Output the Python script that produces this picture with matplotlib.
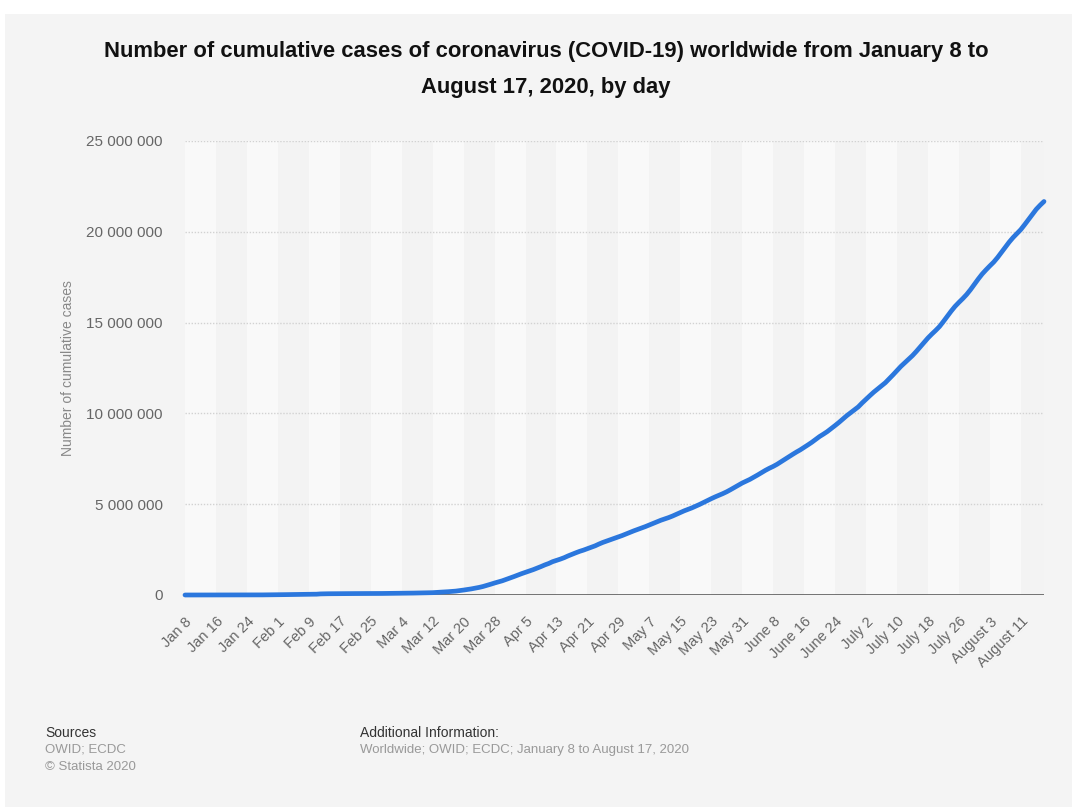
import matplotlib
matplotlib.use("Agg")
import matplotlib.pyplot as plt
import matplotlib.ticker as ticker
from matplotlib.patches import Rectangle
import numpy as np

# ── Data (cumulative cases, thousands, one value per day) ────────────────────

jan = [0.06, 0.06, 0.06, 0.06, 0.06, 0.06, 0.06, 0.06, 0.06, 0.06, 0.07, 0.08,
       0.28, 0.44, 0.58, 0.85, 1.3, 2.0, 2.9, 4.5, 6.1, 7.8, 9.8, 11.9]  # Jan 8-31
feb = [14.6, 17.4, 20.6, 24.5, 28.3, 31.5, 34.4, 37.1, 40.2, 42.8, 44.8, 60.3,
       67.1, 69.2, 71.2, 73.3, 75.2, 75.9, 76.2, 76.9, 78.6, 78.6, 79.4, 80.1,
       80.9, 81.8, 83.1, 84.6, 86.6]
mar = [88.6, 90.3, 92.8, 95.1, 97.9, 101.8, 105.8, 109.8, 113.6, 118.6, 125.9,
       128.3, 145.2, 156.1, 167.5, 181.5, 197.1, 214.9, 242.7, 272.2, 304.5,
       336.9, 378.3, 418.0, 467.7, 529.6, 593.3, 660.7, 720.1, 782.4, 857.5]
apr = [932.6, 1013.3, 1095.9, 1176.1, 1249.7, 1321.5, 1396.5, 1480.2, 1565.3,
       1657.5, 1735.6, 1835.1, 1906.1, 1976.2, 2056.1, 2152.6, 2240.2, 2324.0,
       2404.8, 2472.3, 2549.1, 2623.0, 2708.0, 2807.0, 2896.6, 2971.5, 3041.8,
       3116.4, 3193.9, 3276.0]
may = [3363.2, 3451.8, 3533.7, 3610.1, 3687.1, 3768.6, 3856.5, 3945.4, 4038.1,
       4117.6, 4190.0, 4263.8, 4348.1, 4444.5, 4540.8, 4633.8, 4716.4, 4797.0,
       4889.7, 4988.3, 5094.3, 5198.5, 5302.8, 5402.0, 5493.6, 5583.3, 5684.5,
       5800.3, 5923.7, 6047.0, 6165.7]
jun = [6266.0, 6367.8, 6485.3, 6609.6, 6738.1, 6864.3, 6977.8, 7078.6, 7196.1,
       7333.3, 7468.0, 7603.2, 7738.6, 7870.0, 7991.2, 8128.2, 8267.1, 8410.0,
       8568.6, 8727.2, 8859.7, 9000.5, 9164.7, 9330.5, 9502.1, 9683.7, 9870.1,
       10031.6, 10194.9, 10359.3]
jul = [10576.6, 10780.4, 10977.5, 11170.3, 11345.0, 11512.1, 11690.3, 11909.4,
       12127.9, 12357.9, 12585.7, 12782.3, 12980.9, 13181.1, 13411.5, 13655.6,
       13901.7, 14151.2, 14366.1, 14567.1, 14784.2, 15058.8, 15345.1, 15628.4,
       15889.9, 16111.0, 16320.0, 16546.2, 16811.6, 17106.0, 17396.9]
aug = [17669.3, 17902.1, 18121.3, 18330.6, 18584.0, 18867.3, 19152.2, 19432.4,
       19682.6, 19904.7, 20121.8, 20393.4, 20676.5, 20962.9, 21240.1, 21465.1,
       21669.5]  # Aug 1-17

tick_labels = ["Jan 8", "Jan 16", "Jan 24", "Feb 1", "Feb 9", "Feb 17", "Feb 25",
               "Mar 4", "Mar 12", "Mar 20", "Mar 28", "Apr 5", "Apr 13", "Apr 21",
               "Apr 29", "May 7", "May 15", "May 23", "May 31", "June 8",
               "June 16", "June 24", "July 2", "July 10", "July 18", "July 26",
               "August 3", "August 11"]

cases = np.array(jan + feb + mar + apr + may + jun + jul + aug) * 1000
days = np.arange(len(cases))

# ── Figure ───────────────────────────────────────────────────────────────────

plt.rcParams["font.family"] = ["Liberation Sans", "DejaVu Sans"]

fig = plt.figure(figsize=(10.72, 8.07), dpi=100, facecolor="white")
fig.patches.append(Rectangle((5 / 1072, 0), 1, 1 - 14 / 807,
                             transform=fig.transFigure, facecolor="#f4f4f4",
                             edgecolor="none", zorder=-10))

ax = fig.add_axes([185 / 1072, 1 - 595 / 807, (1044 - 185) / 1072,
                   (595 - 141) / 807])
ax.set_facecolor("none")

# alternating column bands
for k, start in enumerate(range(0, len(days), 8)):
    color = "#f9f9f9" if k % 2 == 0 else "#f3f3f3"
    ax.axvspan(start, min(start + 8, len(days) - 1), color=color, lw=0, zorder=0)

for y in range(5_000_000, 25_000_001, 5_000_000):
    ax.axhline(y, color="#d2d2d2", lw=1, ls=(0, (1, 1.2)), zorder=1)
ax.axhline(0, color="#666666", lw=2, zorder=3)

ax.plot(days, cases, color="#2b77dd", lw=3.4, solid_capstyle="round",
        solid_joinstyle="round", zorder=4, clip_on=False)

ax.set_xlim(0, len(days) - 1)
ax.set_ylim(0, 25_000_000)
for s in ax.spines.values():
    s.set_visible(False)

ax.yaxis.set_major_locator(ticker.MultipleLocator(5_000_000))
ax.yaxis.set_major_formatter(ticker.FuncFormatter(
    lambda v, p: f"{int(v):,}".replace(",", " ")))
ax.set_xticks(days[::8][:len(tick_labels)])
ax.set_xticklabels(tick_labels, rotation=45, ha="right", rotation_mode="anchor")
ax.tick_params(axis="both", length=0, colors="#666666", labelsize=10.5)
ax.tick_params(axis="y", labelsize=11, pad=16)
ax.tick_params(axis="x", labelsize=10.5, pad=14)

ax.set_ylabel("Number of cumulative cases", color="#888888", fontsize=10,
              labelpad=8)

fig.text(546 / 1072, 1 - 52 / 807,
         "Number of cumulative cases of coronavirus (COVID-19) worldwide from January 8 to",
         ha="center", va="center", fontsize=15.8, fontweight="bold",
         color="#111111")
fig.text(546 / 1072, 1 - 87 / 807, "August 17, 2020, by day",
         ha="center", va="center", fontsize=15.8, fontweight="bold",
         color="#111111")

fig.text(45 / 1072, 1 - 733 / 807, "Sources", ha="left", va="center",
         fontsize=10, color="#333333")
fig.text(45 / 1072, 1 - 750 / 807, "OWID; ECDC", ha="left", va="center",
         fontsize=9.5, color="#999999")
fig.text(45 / 1072, 1 - 767 / 807, "© Statista 2020", ha="left", va="center",
         fontsize=9.5, color="#999999")
fig.text(360 / 1072, 1 - 733 / 807, "Additional Information:", ha="left",
         va="center", fontsize=10, color="#333333")
fig.text(360 / 1072, 1 - 750 / 807,
         "Worldwide; OWID; ECDC; January 8 to August 17, 2020", ha="left",
         va="center", fontsize=9.5, color="#999999")

fig.savefig("out.png", dpi=100, facecolor=fig.get_facecolor())
